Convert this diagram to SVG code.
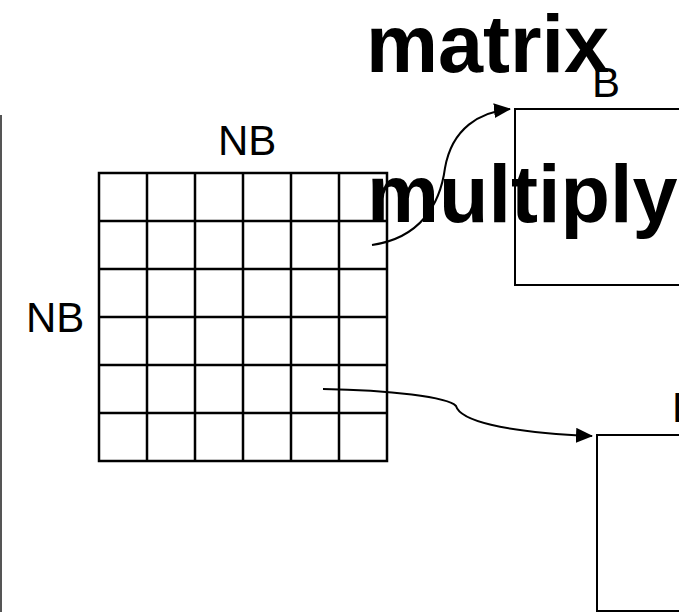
<svg xmlns="http://www.w3.org/2000/svg" width="679" height="612" viewBox="0 0 679 612">
  <defs>
    <marker id="head" viewBox="0 0 17 15" refX="16" refY="7.5" markerWidth="17" markerHeight="15" markerUnits="userSpaceOnUse" orient="auto">
      <path d="M0,0 L17,7.5 L0,15 Z" fill="#000"/>
    </marker>
  </defs>
  <style>
    .label { font-family: "Liberation Sans", Arial, sans-serif; font-size: 42px; fill: #000; }
    .title { font-family: "Liberation Sans", Arial, sans-serif; font-size: 81px; font-weight: bold; fill: #000; }
    .grid line, .grid rect { stroke: #000; stroke-width: 2.5; fill: none; }
    .box { fill: none; stroke: #000; stroke-width: 2; }
    .conn { fill: none; stroke: #000; stroke-width: 2; }
  </style>
  <rect width="679" height="612" fill="#fff"/>

  <!-- left border rule -->
  <line x1="1" y1="115" x2="1" y2="612" stroke="#555" stroke-width="2"/>

  <!-- NB x NB block grid -->
  <g id="grid" class="grid">
    <rect x="99" y="173" width="288" height="288"/>
    <line x1="147" y1="173" x2="147" y2="461"/>
    <line x1="195" y1="173" x2="195" y2="461"/>
    <line x1="243" y1="173" x2="243" y2="461"/>
    <line x1="291" y1="173" x2="291" y2="461"/>
    <line x1="339" y1="173" x2="339" y2="461"/>
    <line x1="99" y1="221" x2="387" y2="221"/>
    <line x1="99" y1="269" x2="387" y2="269"/>
    <line x1="99" y1="317" x2="387" y2="317"/>
    <line x1="99" y1="365" x2="387" y2="365"/>
    <line x1="99" y1="413" x2="387" y2="413"/>
  </g>
  <g id="nb-top"><text class="label" x="218" y="155">NB</text></g>
  <g id="nb-left"><text class="label" x="26" y="332">NB</text></g>

  <!-- block B -->
  <g id="block-b">
    <rect class="box" x="515" y="109" width="200" height="176"/>
    <text class="label" x="592" y="97">B</text>
  </g>

  <!-- lower block -->
  <g id="block-lower">
    <rect class="box" x="597" y="435" width="200" height="176"/>
    <text class="label" x="672" y="422">B</text>
  </g>

  <!-- connectors -->
  <g id="connectors">
    <path class="conn" marker-end="url(#head)" d="M372,245 C420,238 440,205 445,168 C452,128 480,112 510,109"/>
    <path class="conn" marker-end="url(#head)" d="M323,389 C390,390 448,397 456,406 C460,420 500,432 592,436"/>
  </g>

  <!-- title -->
  <g id="title">
    <text class="title" x="366" y="72">matrix</text>
    <text class="title" x="367" y="222">multiply</text>
  </g>
</svg>
